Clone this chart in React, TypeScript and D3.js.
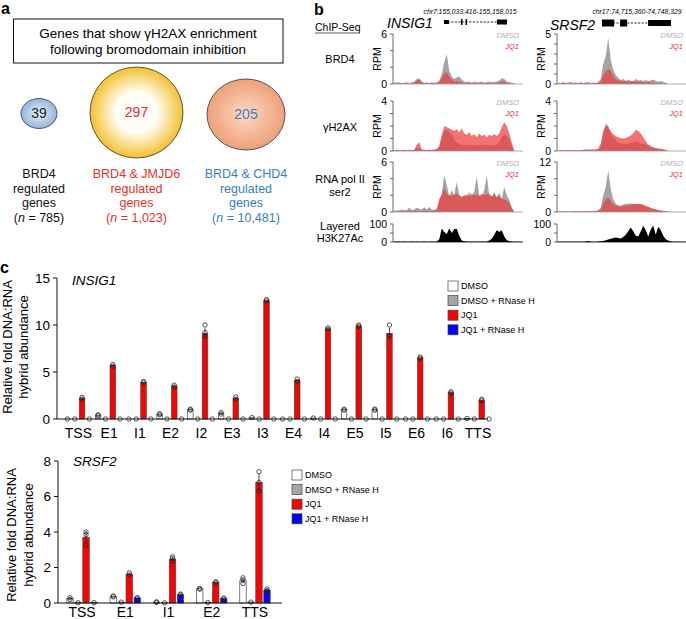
import React from "react";
import * as d3 from "d3";

const FONT = "'Liberation Sans', Arial, Helvetica, sans-serif";

/* ---------------- Panel a data ---------------- */
const vennCounts = [39, 297, 205];
const vennGroupNames = ["BRD4", "BRD4 & JMJD6", "BRD4 & CHD4"];
const vennGroupTotals = ["785", "1,023", "10,481"];

/* ---------------- Panel b data ---------------- */
const chipRowLabels = [["BRD4"], ["γH2AX"], ["RNA pol II", "ser2"], ["Layered", "H3K27Ac"]];
const insigRegion = "chr7:155,033,416-155,158,015";
const srsfRegion = "chr17:74,715,360-74,748,329";
const insigSpanKb = 124.6;
const srsfSpanKb = 32.97;
const insigGeneKb = [48.9, 109.3];
const insigExonsKb = [[48.9, 53.7], [65.2, 66.6], [69.5, 70.9], [99.6, 109.3]];
const srsfGeneKb = [11.4, 28.9];
const srsfExonsKb = [[11.4, 14.5], [16.0, 17.8], [23.1, 28.9]];
const insigAxisMax = [6, 4, 6, 100];
const srsfAxisMax = [5, 4, 12, 100];
const insigTickStep = [2, 1, 2, 50];
const srsfTickStep = [1, 1, 4, 50];

const insigBrd4Dmso = [0.2,0.15,0.2,0.1,0.15,0.2,0.1,0.2,0.3,0.6,0.7,0.3,0.15,0.2,0.1,0.2,0.15,0.2,0.4,1.2,2.6,3.6,1.6,0.9,0.6,0.8,0.9,0.5,0.3,0.25,0.3,0.15,0.3,0.2,0.2,0.3,0.15,0.2,0.3,0.2,0.25,0.3,0.4,0.7,0.6,0.3,0.2,0.15,0.05,0,0,0];
const insigBrd4Jq1 = [0.05,0.05,0.1,0.05,0.05,0.1,0.05,0.05,0.1,0.4,0.5,0.15,0.05,0.05,0.05,0.1,0.05,0.05,0.2,0.7,1.3,1.4,0.9,0.5,0.3,0.35,0.3,0.15,0.1,0.1,0.1,0.05,0.1,0.05,0.05,0.1,0.05,0.05,0.1,0.05,0.1,0.1,0.15,0.3,0.25,0.1,0.05,0.05,0,0,0,0];
const insigH2axDmso = [0.08,0.05,0.1,0.05,0.08,0.05,0.1,0.05,0.1,0.3,0.2,0.05,0.08,0.05,0.1,0.05,0.1,0.15,0.3,1.0,1.6,1.7,1.5,1.3,0.9,0.7,0.6,0.5,0.5,0.45,0.55,0.4,0.5,0.45,0.4,0.55,0.45,0.5,0.4,0.5,0.45,0.55,0.7,1.1,1.3,1.2,0.9,0.4,0,0,0,0];
const insigH2axJq1 = [0.05,0.1,0.05,0.08,0.1,0.05,0.1,0.08,0.1,0.5,0.7,0.15,0.1,0.08,0.1,0.1,0.12,0.15,0.4,1.3,2.0,1.9,1.8,1.7,1.6,1.75,1.5,1.8,1.4,1.3,1.5,1.2,1.35,1.1,1.4,1.2,1.3,1.1,1.3,1.2,1.35,1.2,1.4,1.9,2.3,2.0,1.4,0.7,0,0,0,0];
const insigPolDmso = [0.2,0.15,0.2,0.3,0.2,0.25,0.5,0.2,0.3,0.5,0.4,0.3,0.6,0.3,0.6,0.3,0.25,0.4,1.2,2.2,4.4,3.2,1.9,2.6,2.0,3.6,2.0,1.8,1.9,1.8,2.4,1.8,2.5,4.2,2.0,1.9,2.6,4.4,1.9,1.8,2.4,1.8,2.3,1.6,3.0,2.0,1.4,0.5,0,0,0,0];
const insigPolJq1 = [0.1,0.05,0.1,0.1,0.05,0.1,0.15,0.1,0.1,0.15,0.1,0.1,0.15,0.1,0.15,0.1,0.15,0.3,1.6,2.1,2.8,2.2,2.0,1.9,2.1,2.2,2.0,1.8,2.0,2.1,1.9,2.2,2.0,2.1,1.9,2.2,2.0,2.1,2.2,1.9,2.0,1.8,1.9,1.6,1.5,1.4,1.1,0.5,0,0,0,0];
const insigK27ac = [3,2,3,2,3,2,2,3,2,3,2,2,3,2,2,3,2,3,15,75,55,45,75,50,72,72,35,8,4,3,2,3,2,3,2,3,2,3,8,18,40,65,55,65,30,10,5,3,2,2,2,2];

const srsfBrd4Dmso = [0.15,0.1,0.2,0.1,0.15,0.2,0.1,0.15,0.1,0.2,0.1,0.15,0.2,0.1,0.15,0.1,0.2,0.5,2.0,2.8,4.6,2.4,1.4,0.9,0.6,0.4,0.5,0.3,0.45,0.3,0.3,0.5,0.35,0.4,0.3,0.4,0.3,0.35,0.45,0.3,0.25,0.3,0.2,0.1,0,0,0,0,0,0,0,0];
const srsfBrd4Jq1 = [0.05,0.05,0.1,0.05,0.05,0.05,0.05,0.1,0.05,0.05,0.05,0.1,0.05,0.05,0.05,0.1,0.1,0.25,0.9,1.2,1.5,1.3,0.8,0.45,0.35,0.3,0.25,0.3,0.2,0.25,0.3,0.2,0.25,0.2,0.2,0.15,0.2,0.15,0.1,0.1,0.1,0.05,0.05,0.05,0,0,0,0,0,0,0,0];
const srsfH2axDmso = [0.05,0.03,0.05,0.04,0.05,0.03,0.05,0.04,0.05,0.05,0.06,0.05,0.08,0.06,0.05,0.06,0.1,0.3,1.4,2.2,2.0,1.4,1.1,0.85,0.7,0.6,0.6,0.55,0.6,0.65,0.7,0.8,0.7,0.6,0.6,0.5,0.4,0.3,0.25,0.2,0.15,0.1,0.1,0.05,0,0,0,0,0,0,0,0];
const srsfH2axJq1 = [0.05,0.08,0.05,0.06,0.1,0.05,0.08,0.06,0.05,0.08,0.1,0.15,0.12,0.15,0.12,0.15,0.2,0.6,1.6,2.0,1.9,1.6,1.35,1.2,1.1,1.05,1.0,1.05,1.15,1.25,1.4,1.7,1.6,1.4,1.1,0.8,0.5,0.4,0.3,0.25,0.2,0.2,0.15,0.1,0,0,0,0,0,0,0,0];
const srsfPolDmso = [0.2,0.15,0.2,0.25,0.2,0.15,0.2,0.3,0.2,0.25,0.2,0.3,0.2,0.25,0.3,0.3,0.5,1.0,4.0,6.0,10.0,5.5,3.0,2.0,1.6,1.5,1.8,2.0,1.9,2.1,2.0,1.9,1.8,1.7,1.5,1.3,1.2,1.0,0.8,0.7,0.5,0.4,0.3,0.2,0.1,0,0,0,0,0,0,0];
const srsfPolJq1 = [0.1,0.1,0.15,0.1,0.1,0.15,0.1,0.15,0.1,0.15,0.1,0.15,0.1,0.15,0.15,0.2,0.3,0.6,2.0,3.0,3.5,2.6,1.8,1.5,1.3,1.3,1.4,1.5,1.6,1.7,1.8,1.9,2.0,1.9,1.8,1.5,1.2,0.9,0.7,0.5,0.4,0.3,0.2,0.15,0.1,0,0,0,0,0,0,0];
const srsfK27ac = [2,1,2,1,2,1,2,1,2,1,2,3,5,3,2,2,3,4,6,10,14,18,22,25,22,20,28,40,60,80,60,35,30,60,90,65,30,70,92,40,85,65,35,15,8,4,2,1,1,1,1,1];

/* ---------------- Panel c data ---------------- */
const seriesNames = ["DMSO", "DMSO + RNase H", "JQ1", "JQ1 + RNase H"];

const insigCats = ["TSS", "E1", "I1", "E2", "I2", "E3", "I3", "E4", "I4", "E5", "I5", "E6", "I6", "TTS"];
const insigDmso = [0, 0.4, 0, 0.5, 1.0, 0.6, 0.15, 0, 0.1, 1.0, 1.0, 0, 0, 0.05];
const insigDmsoRnaseH = [0, 0, 0, 0, 0, 0, 0, 0, 0, 0, 0, 0, 0, 0];
const insigJq1 = [2.2, 5.7, 3.9, 3.5, 9.1, 2.2, 12.6, 4.1, 9.6, 9.9, 9.1, 6.5, 2.8, 2.0];
const insigJq1RnaseH = [0, 0, 0, 0, 0, 0, 0, 0, 0, 0, 0, 0, 0, 0];
const insigDmsoSd = [0, 0.05, 0, 0.05, 0.05, 0.08, 0, 0, 0, 0.05, 0.05, 0, 0, 0];
const insigDmsoRnaseHSd = [0, 0, 0, 0, 0, 0, 0, 0, 0, 0, 0, 0, 0, 0];
const insigJq1Sd = [0.1, 0.1, 0.05, 0.1, 0.6, 0.12, 0.05, 0.1, 0.05, 0.05, 0.6, 0.05, 0.05, 0.05];
const insigJq1RnaseHSd = [0, 0, 0, 0, 0, 0, 0, 0, 0, 0, 0, 0, 0, 0];
const insigDmsoReps = [[0], [0.45, 0.35], [0], [0.55, 0.45], [1.05, 0.95], [0.68, 0.52], [0.15], [0], [0.1], [1.05, 0.95], [1.05, 0.95], [0], [0], [0.05]];
const insigDmsoRnaseHReps = [[0], [0], [0], [0], [0], [0], [0], [0], [0], [0], [0], [0], [0], [0]];
const insigJq1Reps = [[2.3, 2.1], [5.8, 5.6], [4.0, 3.85], [3.6, 3.4], [10.0, 9.2, 8.8], [2.35, 2.1], [12.7, 12.55], [4.25, 4.0], [9.7, 9.55], [10.0, 9.85], [10.0, 8.85], [6.6, 6.45], [2.9, 2.75], [2.1, 1.95]];
const insigJq1RnaseHReps = [[0], [0], [0], [0], [0], [0], [0], [0], [0], [0], [0], [0], [0], [0]];

const srsfCats = ["TSS", "E1", "I1", "E2", "TTS"];
const srsfDmso = [0.25, 0.37, 0.05, 0.8, 1.25];
const srsfDmsoRnaseH = [0.02, 0.05, 0.01, 0.03, 0.05];
const srsfJq1 = [3.7, 1.62, 2.47, 1.17, 6.8];
const srsfJq1RnaseH = [0.02, 0.29, 0.47, 0.25, 0.72];
const srsfDmsoSd = [0.05, 0.02, 0, 0.02, 0.15];
const srsfDmsoRnaseHSd = [0, 0, 0, 0, 0];
const srsfJq1Sd = [0.35, 0.07, 0.12, 0.04, 0.5];
const srsfJq1RnaseHSd = [0, 0.02, 0.03, 0.03, 0.07];
const srsfDmsoReps = [[0.3, 0.2], [0.4, 0.35], [0.06, 0.04], [0.82, 0.78], [1.42, 1.3, 1.1]];
const srsfDmsoRnaseHReps = [[0.02], [0.05], [0.01], [0.03], [0.05]];
const srsfJq1Reps = [[4.0, 3.85, 3.25], [1.7, 1.58], [2.6, 2.5, 2.35], [1.2, 1.14], [7.4, 6.8, 6.3]];
const srsfJq1RnaseHReps = [[0.02], [0.3, 0.28], [0.5, 0.45], [0.28, 0.22], [0.8, 0.7, 0.65]];

/* ---------------- styles ---------------- */
const seriesFill = ["#ffffff", "#a6a6a6", "#ff0000", "#0000ff"];
const RED_TEXT = "#e8322b";
const BLUE_TEXT = "#3a7fc4";

function PanelA() {
  const cx = [39, 136.5, 246];
  const cy = [113.5, 112.5, 114.5];
  const rx = [18, 46.5, 39];
  const ry = [15, 45.5, 35.5];
  const grads = ["gBlue", "gYellow", "gOrange"];
  const numColors = ["#222", RED_TEXT, BLUE_TEXT];
  const labelColors = ["#111", RED_TEXT, BLUE_TEXT];
  const lineY = [178, 192.5, 207, 221.5];
  return (
    <g>
      <defs>
        <radialGradient id="gBlue" cx="50%" cy="50%" r="50%">
          <stop offset="0%" stopColor="#eaf1f9" />
          <stop offset="100%" stopColor="#93b6dd" />
        </radialGradient>
        <radialGradient id="gYellow" cx="50%" cy="50%" r="50%">
          <stop offset="0%" stopColor="#ffffff" />
          <stop offset="45%" stopColor="#fffdf3" />
          <stop offset="100%" stopColor="#f4c02f" />
        </radialGradient>
        <radialGradient id="gOrange" cx="50%" cy="50%" r="50%">
          <stop offset="0%" stopColor="#fbd9c4" />
          <stop offset="100%" stopColor="#eea079" />
        </radialGradient>
      </defs>
      <text x={1} y={14} fontSize={16} fontWeight="bold">a</text>
      <rect x={13.5} y={19} width={269.5} height={44} fill="none" stroke="#111" strokeWidth={1} />
      <text x={148} y={38} fontSize={13.5} textAnchor="middle">Genes that show γH2AX enrichment</text>
      <text x={148} y={53.5} fontSize={13.5} textAnchor="middle">following bromodomain inhibition</text>
      {vennCounts.map((c, i) => (
        <g key={i}>
          <ellipse cx={cx[i]} cy={cy[i]} rx={rx[i]} ry={ry[i]} fill={`url(#${grads[i]})`} stroke="#333" strokeWidth={0.8} />
          <text x={cx[i]} y={cy[i]} dy="0.35em" textAnchor="middle" fontSize={14} fill={numColors[i]}>{c}</text>
          <text x={cx[i]} y={lineY[0]} textAnchor="middle" fontSize={12.5} fill={labelColors[i]}>{vennGroupNames[i]}</text>
          <text x={cx[i]} y={lineY[1]} textAnchor="middle" fontSize={12.5} fill={labelColors[i]}>regulated</text>
          <text x={cx[i]} y={lineY[2]} textAnchor="middle" fontSize={12.5} fill={labelColors[i]}>genes</text>
          <text x={cx[i]} y={lineY[3]} textAnchor="middle" fontSize={12.5} fill={labelColors[i]}>
            (<tspan fontStyle="italic">n</tspan> = {vennGroupTotals[i]})
          </text>
        </g>
      ))}
    </g>
  );
}

type TrackProps = {
  x0: number; x1: number; top: number; bottom: number; max: number; step: number;
  dmso?: number[]; jq1?: number[]; mark?: number[];
};

function ChipTrack({ x0, x1, top, bottom, max, step, dmso, jq1, mark }: TrackProps) {
  const y = d3.scaleLinear().domain([0, max]).range([bottom, top]);
  const n = (mark || dmso || []).length;
  const x = d3.scaleLinear().domain([0, n]).range([x0, x1]);
  const area = d3.area<number>().x((_, i) => x(i + 0.5)).y0(y(0)).y1((d) => y(Math.min(d, max)));
  const ticks = d3.range(0, max + 1e-9, step);
  return (
    <g>
      {mark ? (
        <path d={area(mark) || ""} fill="#000" />
      ) : (
        <>
          <path d={area(dmso || []) || ""} fill="#a3a3a3" />
          <path d={area(jq1 || []) || ""} fill="#ee3b3b" fillOpacity={0.72} />
        </>
      )}
      <line x1={x0} x2={x1} y1={y(0)} y2={y(0)} stroke={mark ? "#000" : "#999"} strokeWidth={0.8} />
      <line x1={x0} x2={x0} y1={y(max)} y2={y(0)} stroke="#444" strokeWidth={0.8} />
      {ticks.map((t) => (
        <line key={t} x1={x0 - 3} x2={x0} y1={y(t)} y2={y(t)} stroke="#444" strokeWidth={0.8} />
      ))}
      <text x={x0 - 6} y={y(max)} dy="0.35em" textAnchor="end" fontSize={10.5}>{max}</text>
      <text x={x0 - 6} y={y(0)} dy="0.35em" textAnchor="end" fontSize={10.5}>0</text>
      {!mark && (
        <>
          <text transform={`translate(${x0 - 12},${(top + bottom) / 2}) rotate(-90)`} textAnchor="middle" fontSize={10.5}>RPM</text>
          <text x={x1 - 4} y={top + 4} textAnchor="end" fontSize={7.5} fontStyle="italic" fill="#b0b0b0">DMSO</text>
          <text x={x1 - 4} y={top + 15} textAnchor="end" fontSize={7.5} fontStyle="italic" fill="#e8322b">JQ1</text>
        </>
      )}
    </g>
  );
}

function GeneModel({ x0, x1, spanKb, geneKb, exonsKb, y, h }: { x0: number; x1: number; spanKb: number; geneKb: number[]; exonsKb: number[][]; y: number; h: number[] }) {
  const x = d3.scaleLinear().domain([0, spanKb]).range([x0, x1]);
  return (
    <g>
      <line x1={x(geneKb[0])} x2={x(geneKb[1])} y1={y} y2={y} stroke="#111" strokeWidth={0.9} strokeDasharray="2.2,1.4" />
      {exonsKb.map((e, i) => (
        <rect key={i} x={x(e[0])} y={y - h[i] / 2} width={Math.max(1.2, x(e[1]) - x(e[0]))} height={h[i]} fill="#000" />
      ))}
    </g>
  );
}

function PanelB() {
  const rows = [
    { top: 34, bottom: 84 },
    { top: 101, bottom: 151 },
    { top: 162, bottom: 212 },
    { top: 224, bottom: 242 },
  ];
  const insigX = [393, 523];
  const srsfX = [557, 687];
  const insigTracks = [[insigBrd4Dmso, insigBrd4Jq1], [insigH2axDmso, insigH2axJq1], [insigPolDmso, insigPolJq1]];
  const srsfTracks = [[srsfBrd4Dmso, srsfBrd4Jq1], [srsfH2axDmso, srsfH2axJq1], [srsfPolDmso, srsfPolJq1]];
  const labelY = [[63], [131], [183, 196], [230, 242]];
  return (
    <g>
      <text x={314} y={15} fontSize={16} fontWeight="bold">b</text>
      <text x={315} y={31} fontSize={10.5}>ChIP-Seq</text>
      <line x1={315} x2={360} y1={33} y2={33} stroke="#111" strokeWidth={0.7} />
      {chipRowLabels.map((lines, i) =>
        lines.map((t, j) => (
          <text key={`${i}-${j}`} x={340} y={labelY[i][j]} fontSize={11} textAnchor="middle">{t}</text>
        ))
      )}
      <text x={470} y={14} fontSize={6.8} fontStyle="italic" textAnchor="middle">{insigRegion}</text>
      <text x={637} y={14} fontSize={6.8} fontStyle="italic" textAnchor="middle">{srsfRegion}</text>
      <text x={387} y={28} fontSize={14} fontStyle="italic">INSIG1</text>
      <text x={550} y={30} fontSize={14} fontStyle="italic">SRSF2</text>
      <GeneModel x0={insigX[0]} x1={insigX[1]} spanKb={insigSpanKb} geneKb={insigGeneKb} exonsKb={insigExonsKb} y={22} h={[4, 6, 6, 5]} />
      <GeneModel x0={srsfX[0]} x1={srsfX[1]} spanKb={srsfSpanKb} geneKb={srsfGeneKb} exonsKb={srsfExonsKb} y={23} h={[7, 7, 6]} />
      {insigTracks.map((t, i) => (
        <ChipTrack key={`i${i}`} x0={insigX[0]} x1={insigX[1]} top={rows[i].top} bottom={rows[i].bottom} max={insigAxisMax[i]} step={insigTickStep[i]} dmso={t[0]} jq1={t[1]} />
      ))}
      {srsfTracks.map((t, i) => (
        <ChipTrack key={`s${i}`} x0={srsfX[0]} x1={srsfX[1]} top={rows[i].top} bottom={rows[i].bottom} max={srsfAxisMax[i]} step={srsfTickStep[i]} dmso={t[0]} jq1={t[1]} />
      ))}
      <ChipTrack x0={insigX[0]} x1={insigX[1]} top={rows[3].top} bottom={rows[3].bottom} max={insigAxisMax[3]} step={insigTickStep[3]} mark={insigK27ac} />
      <ChipTrack x0={srsfX[0]} x1={srsfX[1]} top={rows[3].top} bottom={rows[3].bottom} max={srsfAxisMax[3]} step={srsfTickStep[3]} mark={srsfK27ac} />
    </g>
  );
}

type BarProps = {
  cats: string[]; means: number[][]; sds: number[][]; reps: number[][][]; title: string;
  xRange: number[]; innerHalf: number; innerPad: number; axisX: number; axisEnd: number;
  yMax: number; yRange: number[]; tickStep: number; titleX: number; titleY: number;
  xLabelY: number; yLabelX: number[]; yLabelCenter: number; legendX: number; legendY: number;
};

function BarChart(p: BarProps) {
  const x = d3.scaleBand<string>().domain(p.cats).range([p.xRange[0], p.xRange[1]]);
  const bw = x.bandwidth();
  const inner = d3
    .scaleBand<number>()
    .domain([0, 1, 2, 3])
    .range([bw / 2 - p.innerHalf, bw / 2 + p.innerHalf])
    .paddingInner(p.innerPad);
  const ib = inner.bandwidth();
  const y = d3.scaleLinear().domain([0, p.yMax]).range([p.yRange[0], p.yRange[1]]);
  const ticks = d3.range(0, p.yMax + 1e-9, p.tickStep);
  const y0 = y(0);
  return (
    <g>
      {p.cats.map((c, ci) => (
        <g key={c} transform={`translate(${x(c)},0)`}>
          {p.means.map((m, si) => {
            const v = m[ci];
            const bx = inner(si) as number;
            return (
              <rect key={si} x={bx} y={y(v)} width={ib} height={Math.max(0, y0 - y(v))} fill={seriesFill[si]} stroke="#444" strokeWidth={0.7} />
            );
          })}
          {p.means.map((m, si) => {
            const sd = p.sds[si][ci];
            if (!sd) return null;
            const cxp = (inner(si) as number) + ib / 2;
            return <line key={`e${si}`} x1={cxp} x2={cxp} y1={y(m[ci] - sd)} y2={y(m[ci] + sd)} stroke="#222" strokeWidth={0.8} />;
          })}
          {p.reps.map((r, si) => {
            const cxp = (inner(si) as number) + ib / 2;
            return r[ci].map((v, k) => (
              <circle key={`p${si}-${k}`} cx={cxp} cy={y(v)} r={2.2} fill="none" stroke="#222" strokeWidth={0.75} />
            ));
          })}
          <text x={bw / 2} y={p.xLabelY} textAnchor="middle" fontSize={14}>{c}</text>
        </g>
      ))}
      <line x1={p.axisX} x2={p.axisEnd} y1={y0} y2={y0} stroke="#111" strokeWidth={1} />
      <line x1={p.axisX} x2={p.axisX} y1={y(p.yMax)} y2={y0} stroke="#111" strokeWidth={1} />
      {ticks.map((t) => (
        <g key={t}>
          <line x1={p.axisX - 4} x2={p.axisX} y1={y(t)} y2={y(t)} stroke="#111" strokeWidth={1} />
          <text x={p.axisX - 7} y={y(t)} dy="0.35em" textAnchor="end" fontSize={13.5}>{t}</text>
        </g>
      ))}
      <text x={p.titleX} y={p.titleY} fontSize={13.5} fontStyle="italic">{p.title}</text>
      <text transform={`translate(${p.yLabelX[0]},${p.yLabelCenter}) rotate(-90)`} dy="0.35em" textAnchor="middle" fontSize={13}>Relative fold DNA:RNA</text>
      <text transform={`translate(${p.yLabelX[1]},${p.yLabelCenter}) rotate(-90)`} dy="0.35em" textAnchor="middle" fontSize={13}>hybrid abundance</text>
      {seriesNames.map((s, i) => (
        <g key={s}>
          <rect x={p.legendX} y={p.legendY + i * 14.6 - 5} width={10} height={10} fill={seriesFill[i]} stroke="#444" strokeWidth={0.7} />
          <text x={p.legendX + 13} y={p.legendY + i * 14.6} dy="0.35em" fontSize={9}>{s}</text>
        </g>
      ))}
    </g>
  );
}

function PanelC() {
  return (
    <g>
      <text x={0} y={273} fontSize={16} fontWeight="bold">c</text>
      <BarChart
        cats={insigCats}
        means={[insigDmso, insigDmsoRnaseH, insigJq1, insigJq1RnaseH]}
        sds={[insigDmsoSd, insigDmsoRnaseHSd, insigJq1Sd, insigJq1RnaseHSd]}
        reps={[insigDmsoReps, insigDmsoRnaseHReps, insigJq1Reps, insigJq1RnaseHReps]}
        title="INSIG1"
        xRange={[63, 493.4]}
        innerHalf={13.75}
        innerPad={0.25}
        axisX={57}
        axisEnd={488}
        yMax={15}
        yRange={[419, 278]}
        tickStep={5}
        titleX={72}
        titleY={285}
        xLabelY={438}
        yLabelX={[7, 23.5]}
        yLabelCenter={347}
        legendX={448}
        legendY={286}
      />
      <BarChart
        cats={srsfCats}
        means={[srsfDmso, srsfDmsoRnaseH, srsfJq1, srsfJq1RnaseH]}
        sds={[srsfDmsoSd, srsfDmsoRnaseHSd, srsfJq1Sd, srsfJq1RnaseHSd]}
        reps={[srsfDmsoReps, srsfDmsoRnaseHReps, srsfJq1Reps, srsfJq1RnaseHReps]}
        title="SRSF2"
        xRange={[60.4, 276.6]}
        innerHalf={15.2}
        innerPad={0.2}
        axisX={58}
        axisEnd={282}
        yMax={8}
        yRange={[603, 461]}
        tickStep={2}
        titleX={73}
        titleY={466}
        xLabelY={617}
        yLabelX={[11, 28]}
        yLabelCenter={535}
        legendX={292}
        legendY={475}
      />
    </g>
  );
}

export default function App() {
  return (
    <svg
      width={686}
      height={619}
      viewBox="0 0 686 619"
      style={{ position: "absolute", left: 0, top: 0, background: "#fff" }}
      fontFamily={FONT}
    >
      <rect x={0} y={0} width={686} height={619} fill="#fff" />
      <PanelA />
      <PanelB />
      <PanelC />
    </svg>
  );
}
